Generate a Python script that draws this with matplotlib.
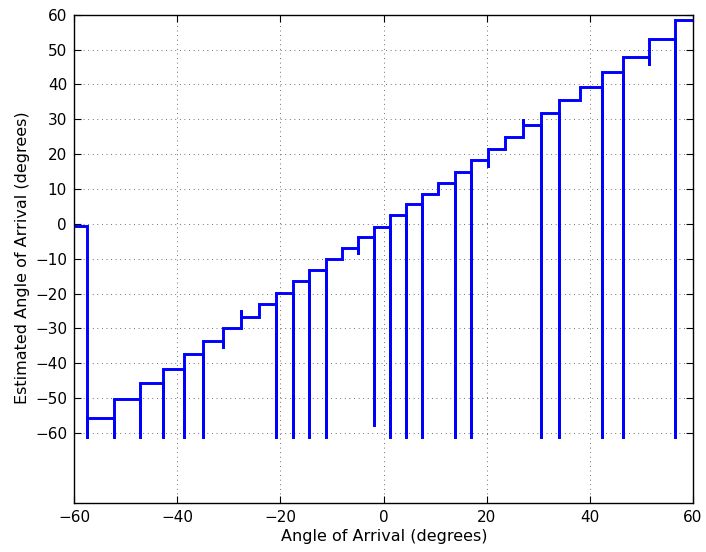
import numpy as np
import matplotlib
matplotlib.use("Agg")
import matplotlib.pyplot as plt

# Estimated level held on each step (degrees)
levels = [-0.7, -55.6, -50.3, -45.8, -41.5, -37.4, -33.6, -30.0, -26.7, -23.1,
          -19.7, -16.5, -13.3, -10.1, -7.0, -3.8, -0.8, 2.4, 5.6, 8.6,
          11.7, 15.0, 18.2, 21.5, 24.8, 28.3, 31.9, 35.5, 39.4, 43.7,
          48.0, 52.9, 58.5]
# True angle where the estimate jumps from one level to the next
switch_x = [-57.5, -52.2, -47.3, -42.8, -38.7, -35.0, -31.2, -27.6, -24.2, -20.8,
            -17.5, -14.4, -11.1, -8.1, -4.9, -1.9, 1.3, 4.4, 7.5, 10.6,
            13.8, 16.9, 20.3, 23.5, 27.0, 30.5, 34.1, 38.1, 42.4, 46.5,
            51.4, 56.6]
# Outlier value visited at each jump (nan = direct step)
glitch = [-61.5, -61.5, -61.5, -61.5, -61.5, -61.5, -35.7, -24.8, np.nan, -61.5,
          -61.5, -61.5, -61.5, np.nan, -8.6, -58.0, -61.5, -61.5, -61.5, np.nan,
          -61.5, -61.5, 16.2, np.nan, 30.2, -61.5, -61.5, np.nan, -61.5, -61.5,
          45.7, -61.5]
x_start, x_end = -60.0, 60.0

xs = [x_start]
ys = [levels[0]]
for i, sx in enumerate(switch_x):
    xs.append(sx); ys.append(levels[i])
    if not np.isnan(glitch[i]):
        xs.append(sx); ys.append(glitch[i])
    xs.append(sx); ys.append(levels[i + 1])
xs.append(x_end); ys.append(levels[-1])

plt.rcParams['font.family'] = ['DejaVu Sans']

fig = plt.figure(figsize=(7.06, 5.52), dpi=100)
ax = fig.add_axes([74/706, 1 - 502.7/552, (693 - 74)/706, (502.7 - 14.7)/552])
ax.plot(xs, ys, color='#0000ff', lw=2.1, solid_joinstyle='miter')

ax.set_xlim(-60, 60)
ax.set_ylim(-80, 60)
ax.set_xticks(np.arange(-60, 61, 20))
ax.set_yticks(np.arange(-60, 61, 10))
ax.grid(True, color='0.25', linestyle=(0, (1, 4.5)), linewidth=0.6)
ax.tick_params(direction='in', length=5, width=0.8, top=True, right=True,
               labelsize=11, pad=5)
for s in ax.spines.values():
    s.set_linewidth(1.0)
ax.set_xlabel('Angle of Arrival (degrees)', fontsize=11.5)
ax.set_ylabel('Estimated Angle of Arrival (degrees)', fontsize=11.5)
ax.xaxis.set_label_coords((384 - 74) / 619, -(537 - 502.7) / 488, transform=ax.transAxes)
ax.xaxis.label.set_va('center')
ax.yaxis.set_label_coords(-(74 - 23) / 619, (258 - 14.7) / -488 + 1, transform=ax.transAxes)
ax.yaxis.label.set_va('center')

fig.savefig('out.png', dpi=100)
